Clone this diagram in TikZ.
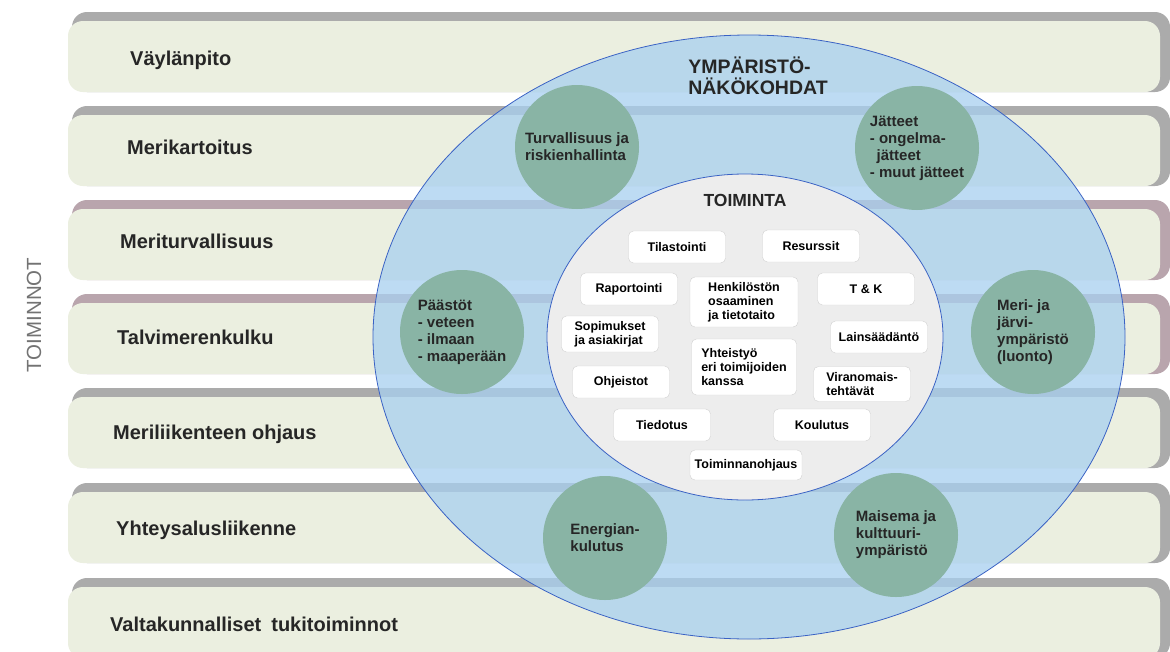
\documentclass[tikz,border=0pt]{standalone}
\usepackage{fontspec}
\setmainfont{Liberation Sans}
\usepackage{tikz}
\usetikzlibrary{shapes.geometric, positioning}
\definecolor{bargray}{HTML}{ABABAB}
\definecolor{barpink}{HTML}{B9A5AD}
\definecolor{stripfill}{HTML}{EBEFE0}
\definecolor{envblue}{HTML}{A8D0F0}
\definecolor{envline}{HTML}{3A62C4}
\definecolor{topicgreen}{HTML}{89B4A5}
\definecolor{coregray}{HTML}{EDEDED}

\begin{document}
\begin{tikzpicture}[x=1pt, y=-1pt,
    band/.style={anchor=west, inner sep=0pt, text=black!85, font=\fontsize{20}{22}\selectfont\bfseries},
    ring/.style={ellipse, draw=envline, line width=0.8pt, inner sep=0pt},
    topic/.style={circle, fill=topicgreen, minimum size=124pt, inner sep=0pt, align=left, text=black!85, font=\fontsize{15}{17}\selectfont\bfseries},
    task/.style={rectangle, rounded corners=5pt, draw=black!18, fill=white, minimum width=97pt, minimum height=32pt, inner sep=2pt, align=left, font=\fontsize{12.5}{14}\selectfont\bfseries},
    title/.style={align=left, text=black!85, font=\fontsize{19.5}{20.5}\selectfont\bfseries}
]
    \useasboundingbox (0,0) rectangle (1170,651);
    \fill[white] (0,0) rectangle (1170,651);

    % Toiminnot strips
    \foreach \top/\bar in {12/bargray, 106/bargray, 200/barpink, 294/barpink, 388/bargray, 483/bargray, 578/bargray} {
        \fill[\bar, rounded corners=15pt] (72,\top) rectangle (1170,\top+80);
        \fill[stripfill, rounded corners=15pt] (68,\top+9) rectangle (1160,\top+80);
    }
    \node[band] (vayla) at (130,60) {Väylänpito};
    \node[band] (kartoitus) at (127,147) {Merikartoitus};
    \node[band] (turva) at (120,241) {Meriturvallisuus};
    \node[band] (talvi) at (117,337) {Talvimerenkulku};
    \node[band] (ohjaus) at (113,434) {Meriliikenteen ohjaus};
    \node[band] (yhteys) at (116,530) {Yhteysalusliikenne};
    \node[band] (tuki) at (110,624) {Valtakunnalliset\enspace tukitoiminnot};
    \node[rotate=90, text=black!55, font=\fontsize{20.5}{22}\selectfont] (toiminnot) at (34,315) {TOIMINNOT};

    % Ympäristönäkökohdat
    \node[ring, fill=envblue, fill opacity=0.75, minimum width=752pt, minimum height=604pt] (env) at (749,337) {};
    \node[title] (envtitle) at (758,76) {YMPÄRISTÖ-\\NÄKÖKOHDAT};
    \node[topic] (riski) at (577,147) {Turvallisuus ja\\riskienhallinta};
    \node[topic] (jate) at (917,148) {Jätteet\\- ongelma-\\\hspace*{0.45em}jätteet\\- muut jätteet};
    \node[topic] (paasto) at (462,332) {Päästöt\\- veteen\\- ilmaan\\- maaperään};
    \node[topic] (luonto) at (1033,332) {Meri- ja\\järvi-\\ympäristö\\(luonto)};
    \node[topic] (energia) at (605,538) {Energian-\\kulutus};
    \node[topic] (maisema) at (896,535) {Maisema ja\\kulttuuri-\\ympäristö};

    % Toiminta
    \node[ring, fill=coregray, minimum width=396pt, minimum height=326pt] (core) at (745,337) {};
    \node[title, font=\fontsize{17.5}{19}\selectfont\bfseries] (coretitle) at (745,200) {TOIMINTA};
    \node[task] (tilasto) at (677,247) {Tilastointi};
    \node[task] (resurssi) at (811,246) {Resurssit};
    \node[task] (raportti) at (629,289) {Raportointi};
    \node[task, minimum width=108pt, minimum height=50pt] (henkilo) at (744,302) {Henkilöstön\\osaaminen\\ja tietotaito};
    \node[task] (tk) at (866,289) {T \& K};
    \node[task, minimum height=36pt] (sopimus) at (610,334) {Sopimukset\\ja asiakirjat};
    \node[task] (laki) at (879,337) {Lainsäädäntö};
    \node[task, minimum width=105pt, minimum height=56pt] (yhteistyo) at (744,367) {Yhteistyö\\eri toimijoiden\\kanssa};
    \node[task] (ohje) at (621,382) {Ohjeistot};
    \node[task, minimum height=35pt] (viranomais) at (862,384) {Viranomais-\\tehtävät};
    \node[task] (tiedotus) at (662,425) {Tiedotus};
    \node[task] (koulutus) at (822,425) {Koulutus};
    \node[task, minimum width=112pt, minimum height=30pt] (ohjaus2) at (746,465) {Toiminnanohjaus};
\end{tikzpicture}
\end{document}
